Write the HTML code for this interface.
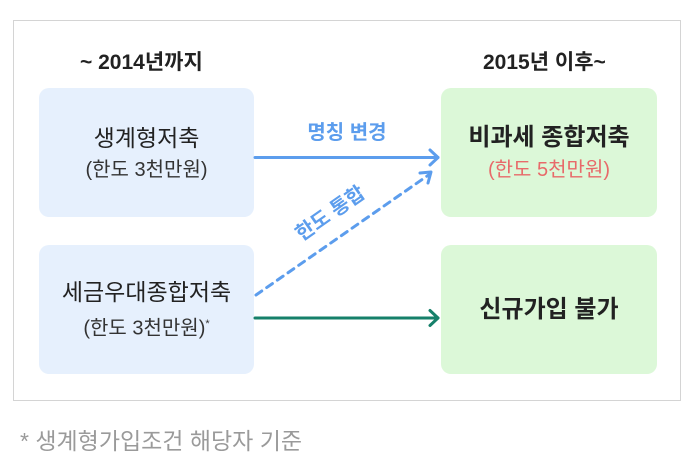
<!DOCTYPE html>
<html><head><meta charset="utf-8"><style>
body{margin:0;width:696px;height:460px;background:#fff;font-family:"Liberation Sans","Noto Sans CJK KR",sans-serif;position:relative;overflow:hidden}
.frame{position:absolute;left:13px;top:20px;width:668px;height:381px;border:1.5px solid #d4d4d4;box-sizing:border-box}
.box{position:absolute;border-radius:10px;display:flex;flex-direction:column;align-items:center;justify-content:center;color:#222;text-align:center}
.b{background:#e6f0fd}.g{background:#dcf8d8}
.t{font-size:23px;line-height:34px}
.s{font-size:20px;line-height:30px;color:#333}
.h{position:absolute;font-size:21px;font-weight:bold;color:#222;white-space:nowrap}
</style></head><body>
<div class="frame"></div>
<div class="h" style="left:80px;top:46px">~ 2014년까지</div>
<div class="h" style="left:483px;top:46px">2015년 이후~</div>
<div class="box b" style="left:39px;top:88px;width:215px;height:129px"><div class="t">생계형저축</div><div class="s">(한도 3천만원)</div></div>
<div class="box b" style="left:39px;top:245px;width:215px;height:129px"><div class="t">세금우대종합저축</div><div class="s">(한도 3천만원)<sup style="font-size:11px">*</sup></div></div>
<div class="box g" style="left:441px;top:88px;width:216px;height:129px"><div class="t" style="font-weight:bold;font-size:24px">비과세 종합저축</div><div class="s" style="color:#e86a6a">(한도 5천만원)</div></div>
<div class="box g" style="left:441px;top:245px;width:216px;height:129px"><div class="t" style="font-weight:bold;font-size:24px">신규가입 불가</div></div>
<svg width="696" height="460" style="position:absolute;left:0;top:0">
<g fill="none" stroke-width="3" stroke-linecap="round" stroke-linejoin="round">
<line x1="255" y1="157.5" x2="438" y2="157.5" stroke="#5c9ded"/>
<polyline points="430,150 438,157.5 430,165" stroke="#5c9ded"/>
<line x1="256" y1="295" x2="430" y2="174" stroke="#5c9ded" stroke-dasharray="7,6"/>
<polyline points="420,173 431,172 428,183" stroke="#5c9ded"/>
<line x1="255" y1="318" x2="438" y2="318" stroke="#16806a"/>
<polyline points="430,310.5 438,318 430,325.5" stroke="#16806a"/>
</g>
<text x="347" y="139" font-size="20" font-weight="bold" fill="#5c9ded" text-anchor="middle" font-family="Liberation Sans, Noto Sans CJK KR, sans-serif">명칭 변경</text>
<text x="330" y="220" font-size="20" font-weight="bold" fill="#5c9ded" text-anchor="middle" transform="rotate(-35 330 213)" font-family="Liberation Sans, Noto Sans CJK KR, sans-serif">한도 통합</text>
</svg>
<div style="position:absolute;left:20px;top:422px;font-size:23px;color:#9a9a9a;white-space:nowrap">* 생계형가입조건 해당자 기준</div>
</body></html>
